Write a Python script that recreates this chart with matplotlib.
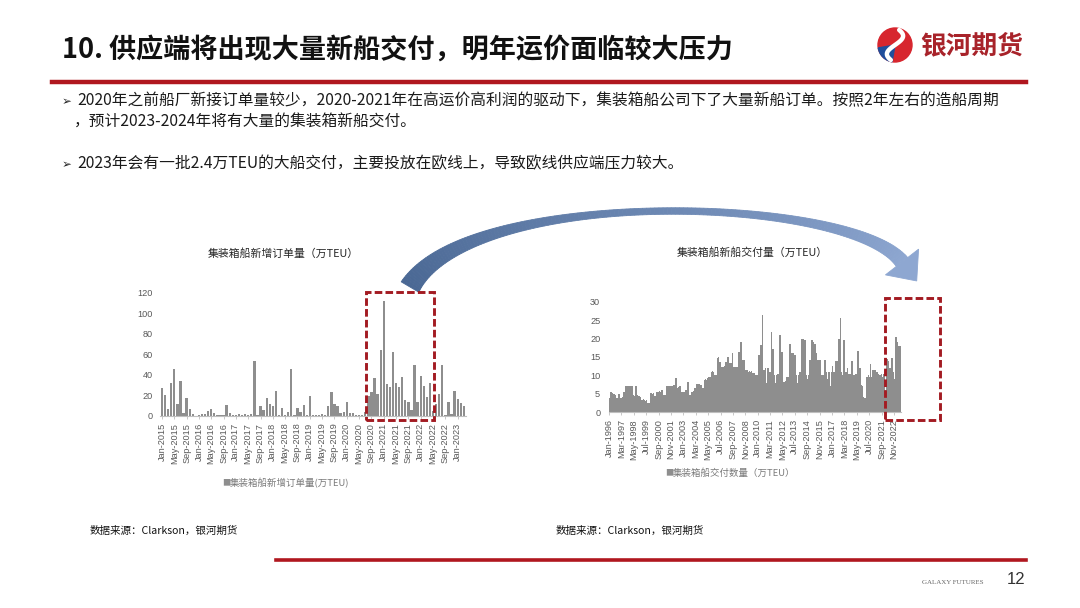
import numpy as np
import matplotlib
matplotlib.use('Agg')
import matplotlib.pyplot as plt
from matplotlib.patches import Rectangle, Polygon, Circle, Wedge
from matplotlib.lines import Line2D
from matplotlib.colors import to_rgb

plt.rcParams['font.family'] = ['Noto Sans CJK SC', 'DejaVu Sans']

# ---------------- data ----------------
# Left chart: monthly new container-ship orders (10k TEU), Jan-2015 .. Mar-2023
orders_2015 = [27, 20, 7, 32, 46, 11, 34, 3, 17, 7, 2, 0]
orders_2016 = [1, 2, 2, 5, 7, 3, 1, 1, 1, 10, 3, 1]
orders_2017 = [1, 2, 1, 2, 1, 2, 53, 1, 9, 6, 17, 11]
orders_2018 = [9, 24, 1, 8, 1, 4, 46, 1, 8, 4, 10, 1]
orders_2019 = [19, 1, 1, 1, 2, 1, 9, 23, 11, 9, 3, 4]
orders_2020 = [13, 3, 3, 1, 1, 1, 4, 19, 23, 37, 21, 64]
orders_2021 = [112, 31, 28, 62, 32, 28, 38, 15, 13, 6, 49, 13]
orders_2022 = [39, 29, 18, 32, 5, 11, 21, 49, 1, 13, 2, 24]
orders_2023 = [16, 12, 9]
new_orders = (orders_2015 + orders_2016 + orders_2017 + orders_2018 + orders_2019
              + orders_2020 + orders_2021 + orders_2022 + orders_2023)
order_tick_labels = ['Jan-2015', 'May-2015', 'Sep-2015', 'Jan-2016', 'May-2016', 'Sep-2016',
                     'Jan-2017', 'May-2017', 'Sep-2017', 'Jan-2018', 'May-2018', 'Sep-2018',
                     'Jan-2019', 'May-2019', 'Sep-2019', 'Jan-2020', 'May-2020', 'Sep-2020',
                     'Jan-2021', 'May-2021', 'Sep-2021', 'Jan-2022', 'May-2022', 'Sep-2022',
                     'Jan-2023']

# Right chart: monthly container-ship deliveries (10k TEU), Jan-1996 .. Jun-2023
deliv_1996 = [4.2, 4.0, 5.6, 5.4, 5.3, 5.0, 5.0, 4.8, 3.8, 3.8, 4.0, 4.9]
deliv_1997 = [4.9, 4.0, 3.8, 4.2, 5.6, 5.6, 6.0, 7.2, 7.2, 7.2, 7.2, 7.2]
deliv_1998 = [7.2, 7.2, 7.2, 7.2, 4.7, 4.5, 7.0, 7.0, 4.7, 4.5, 4.5, 4.2]
deliv_1999 = [4.2, 3.4, 3.3, 3.5, 3.3, 3.2, 3.3, 2.4, 2.5, 2.4, 2.6, 5.1]
deliv_2000 = [5.1, 5.0, 5.1, 4.4, 4.4, 4.5, 5.4, 5.4, 5.6, 5.8, 5.6, 6.0]
deliv_2001 = [6.0, 6.2, 4.7, 4.7, 4.8, 7.2, 7.2, 7.0, 7.2, 7.2, 7.0, 7.2]
deliv_2002 = [7.2, 7.4, 7.4, 9.2, 9.2, 6.5, 6.8, 6.5, 7.0, 7.0, 5.6, 5.6]
deliv_2003 = [5.6, 5.5, 6.0, 6.0, 6.0, 8.1, 8.1, 4.7, 4.7, 5.6, 5.6, 5.8]
deliv_2004 = [6.5, 6.5, 6.5, 7.6, 7.6, 7.6, 7.8, 7.4, 7.4, 6.5, 6.5, 6.5]
deliv_2005 = [8.8, 9.0, 8.8, 9.2, 9.7, 9.7, 9.5, 9.7, 11.0, 11.2, 11.0, 10.0]
deliv_2006 = [10.0, 10.0, 14.2, 14.8, 15.0, 13.7, 13.7, 12.4, 12.4, 12.4, 12.6, 13.7]
deliv_2007 = [13.7, 13.7, 15.0, 15.0, 13.3, 13.3, 13.3, 16.0, 16.0, 12.4, 12.4, 12.4]
deliv_2008 = [12.4, 12.4, 16.4, 16.4, 16.4, 19.0, 19.0, 14.2, 14.2, 14.2, 11.5, 11.5]
deliv_2009 = [11.5, 11.5, 11.0, 11.2, 11.0, 11.2, 10.6, 10.6, 10.6, 10.4, 10.0, 10.0]
deliv_2010 = [10.0, 15.5, 15.5, 18.2, 18.2, 26.4, 26.4, 11.5, 11.5, 12.0, 8.0, 12.0]
deliv_2011 = [12.0, 10.8, 10.8, 21.7, 21.7, 17.3, 17.3, 10.0, 8.0, 10.0, 10.3, 10.3]
deliv_2012 = [10.3, 21.1, 21.1, 16.4, 16.4, 8.3, 8.3, 8.5, 9.7, 9.7, 9.7, 9.7]
deliv_2013 = [18.4, 18.4, 16.0, 16.0, 16.0, 15.5, 15.5, 15.5, 10.0, 8.0, 10.0, 10.8]
deliv_2014 = [10.8, 10.8, 20.0, 20.0, 19.8, 19.6, 19.6, 10.0, 9.0, 10.0, 14.2, 14.2]
deliv_2015 = [14.2, 19.6, 19.6, 19.0, 18.4, 18.4, 16.0, 16.0, 14.2, 14.2, 14.2, 14.2]
deliv_2016 = [10.0, 10.0, 10.0, 14.2, 14.2, 14.2, 11.0, 9.0, 11.0, 11.0, 7.0, 11.0]
deliv_2017 = [12.5, 12.5, 11.0, 11.0, 14.0, 14.0, 14.0, 20.0, 20.0, 10.0, 25.5, 11.0]
deliv_2018 = [10.0, 19.5, 19.5, 11.0, 11.0, 12.0, 12.0, 10.5, 10.5, 10.5, 14.0, 14.0]
deliv_2019 = [10.0, 10.0, 10.5, 10.5, 10.5, 16.5, 16.5, 12.0, 12.0, 7.5, 7.0, 7.0]
deliv_2020 = [4.2, 4.0, 4.0, 9.5, 9.5, 10.0, 9.5, 13.0, 9.5, 9.5, 11.5, 11.5]
deliv_2021 = [11.5, 11.5, 11.0, 11.0, 10.5, 10.5, 10.0, 10.0, 10.5, 9.5, 10.5, 10.5]
deliv_2022 = [6.0, 6.0, 14.5, 14.5, 14.0, 12.0, 12.0, 14.8, 14.8, 11.0, 9.0, 9.0]
deliv_2023 = [20.5, 20.5, 19.0, 18.0, 18.0, 18.0]
deliveries = (deliv_1996 + deliv_1997 + deliv_1998 + deliv_1999 + deliv_2000 + deliv_2001
              + deliv_2002 + deliv_2003 + deliv_2004 + deliv_2005 + deliv_2006 + deliv_2007
              + deliv_2008 + deliv_2009 + deliv_2010 + deliv_2011 + deliv_2012 + deliv_2013
              + deliv_2014 + deliv_2015 + deliv_2016 + deliv_2017 + deliv_2018 + deliv_2019
              + deliv_2020 + deliv_2021 + deliv_2022 + deliv_2023)
deliv_tick_labels = ['Jan-1996', 'Mar-1997', 'May-1998', 'Jul-1999', 'Sep-2000', 'Nov-2001',
                     'Jan-2003', 'Mar-2004', 'May-2005', 'Jul-2006', 'Sep-2007', 'Nov-2008',
                     'Jan-2010', 'Mar-2011', 'May-2012', 'Jul-2013', 'Sep-2014', 'Nov-2015',
                     'Jan-2017', 'Mar-2018', 'May-2019', 'Jul-2020', 'Sep-2021', 'Nov-2022']

# ---------------- figure ----------------
W, H = 1080, 608
fig = plt.figure(figsize=(10.8, 6.08), dpi=100)
fig.patch.set_facecolor('white')


def fx(x):
    return x / W


def fy(y):
    return 1 - y / H


CJK = ['Noto Sans CJK SC', 'DejaVu Sans']
LAT = ['Liberation Sans', 'DejaVu Sans']
DARKRED = '#A31B22'

# title
fig.text(fx(62), fy(50), '10. 供应端将出现大量新船交付，明年运价面临较大压力',
         fontsize=19.5, fontweight='bold', color='#111111', va='center', ha='left', family=CJK)

# logo
axlogo = fig.add_axes([fx(876), fy(64), 38 / W, 38 / H])
axlogo.set_xlim(-19, 19)
axlogo.set_ylim(-19, 19)
axlogo.axis('off')
axlogo.add_patch(Circle((0, 0), 17, color='#D7262E'))
axlogo.add_patch(Wedge((0, 0), 17, 190, 260, color='#1F4E9C'))
tt = np.linspace(-1, 1, 60)
axlogo.plot(9 * np.sin(tt * 2.6) * 0.9, tt * 15, color='white', lw=3.2, solid_capstyle='round')
fig.text(fx(920), fy(46), '银河期货', fontsize=18.5, fontweight='bold', color='#A8232A',
         va='center', ha='left', family=CJK)

# header rule
fig.add_artist(Line2D([fx(52), fx(1026)], [fy(82), fy(82)], color='#B0171F', lw=3.2,
                      transform=fig.transFigure))

# bullets
fig.text(fx(62), fy(102), '➢', fontsize=8.5, color='#222222', va='center', ha='left',
         family=['DejaVu Sans'])
fig.text(fx(77), fy(101), '2020年之前船厂新接订单量较少，2020-2021年在高运价高利润的驱动下，集装箱船公司下了大量新船订单。按照2年左右的造船周期',
         fontsize=11.3, color='#1a1a1a', va='center', ha='left', family=CJK)
fig.text(fx(74), fy(121), '，预计2023-2024年将有大量的集装箱新船交付。',
         fontsize=11.3, color='#1a1a1a', va='center', ha='left', family=CJK)
fig.text(fx(62), fy(165), '➢', fontsize=8.5, color='#222222', va='center', ha='left',
         family=['DejaVu Sans'])
fig.text(fx(77), fy(164), '2023年会有一批2.4万TEU的大船交付，主要投放在欧线上，导致欧线供应端压力较大。',
         fontsize=11.3, color='#1a1a1a', va='center', ha='left', family=CJK)

BAR = '#8E8E8E'
TICKC = '#595959'


def style_axes(ax):
    for s in ['top', 'right', 'left']:
        ax.spines[s].set_visible(False)
    ax.spines['bottom'].set_color('#BFBFBF')
    ax.spines['bottom'].set_linewidth(0.8)
    ax.set_facecolor('none')


# ---------------- left chart ----------------
xl0, xl1 = 159.8, 466.0
yl_top, yl_bot = 292.7, 415.7
axL = fig.add_axes([fx(xl0), fy(yl_bot), (xl1 - xl0) / W, (yl_bot - yl_top) / H])
xL = np.arange(len(new_orders))
axL.bar(xL, new_orders, width=0.75, color=BAR)
axL.set_xlim(-0.7, len(new_orders) - 0.3)
axL.set_ylim(0, 120)
axL.set_yticks(range(0, 121, 20))
axL.set_xticks(xL[::4])
axL.set_xticklabels(order_tick_labels, rotation=90, family=LAT)
axL.tick_params(axis='y', length=0, pad=5, labelsize=6.6, labelcolor=TICKC)
axL.tick_params(axis='x', length=2, width=0.6, color='#BFBFBF', pad=3, labelsize=6.6,
                labelcolor=TICKC)
for lab in axL.get_yticklabels():
    lab.set_family(LAT)
style_axes(axL)
fig.text(fx(283), fy(254), '集装箱船新增订单量（万TEU）', fontsize=7.8, color='#262626',
         ha='center', va='center', family=CJK)
fig.text(fx(226), fy(483), '■', fontsize=6, color='#8E8E8E', ha='center', va='center', family=CJK)
fig.text(fx(230), fy(483), '集装箱船新增订单量(万TEU)', fontsize=6.8, color='#7a7a7a',
         ha='left', va='center', family=CJK)

# ---------------- right chart ----------------
xr0, xr1 = 608.6, 900.6
yr_top, yr_bot = 301.7, 412.3
axR = fig.add_axes([fx(xr0), fy(yr_bot), (xr1 - xr0) / W, (yr_bot - yr_top) / H])
xR = np.arange(len(deliveries))
axR.bar(xR, deliveries, width=1.0, color=BAR, linewidth=0)
axR.set_xlim(-0.5, len(deliveries) - 0.5)
axR.set_ylim(0, 30)
axR.set_yticks(range(0, 31, 5))
axR.set_xticks(xR[::14])
axR.set_xticklabels(deliv_tick_labels, rotation=90, family=LAT)
axR.tick_params(axis='y', length=0, pad=6, labelsize=6.6, labelcolor=TICKC)
axR.tick_params(axis='x', length=2, width=0.6, color='#BFBFBF', pad=3, labelsize=6.6,
                labelcolor=TICKC)
for lab in axR.get_yticklabels():
    lab.set_family(LAT)
style_axes(axR)
fig.text(fx(752), fy(253), '集装箱船新船交付量（万TEU）', fontsize=7.8, color='#262626',
         ha='center', va='center', family=CJK)
fig.text(fx(669), fy(473), '■', fontsize=6, color='#8E8E8E', ha='center', va='center', family=CJK)
fig.text(fx(673), fy(473), '集装箱船交付数量（万TEU）', fontsize=6.8, color='#7a7a7a',
         ha='left', va='center', family=CJK)

# ---------------- dashed highlight boxes ----------------
for (x0, y0, x1, y1) in [(366, 292, 434, 420), (885, 298, 940, 420)]:
    fig.add_artist(Rectangle((fx(x0), fy(y1)), (x1 - x0) / W, (y1 - y0) / H, fill=False,
                             edgecolor=DARKRED, lw=2.1, linestyle=(0, (2.6, 1.1)),
                             transform=fig.transFigure, zorder=10))

# ---------------- curved arrow ----------------
P = np.array([[410, 287], [470, 185], [850, 195], [902, 262]], dtype=float)


def bez(t):
    t = np.asarray(t)[:, None]
    return ((1 - t) ** 3 * P[0] + 3 * t * (1 - t) ** 2 * P[1]
            + 3 * t ** 2 * (1 - t) * P[2] + t ** 3 * P[3])


def dbez(t):
    t = np.asarray(t)[:, None]
    return (3 * (1 - t) ** 2 * (P[1] - P[0]) + 6 * t * (1 - t) * (P[2] - P[1])
            + 3 * t ** 2 * (P[3] - P[2]))


N = 160
ts = np.linspace(0, 1, N + 1)
C = bez(ts)
D = dbez(ts)
D = D / np.linalg.norm(D, axis=1)[:, None]
Nrm = np.stack([-D[:, 1], D[:, 0]], axis=1)
wid = np.where(ts < 0.5, 6.5 + 14 * (1 - 2 * ts) ** 2, 6.5 + 8 * (2 * ts - 1) ** 2)
Lft = C + Nrm * wid[:, None] / 2
Rgt = C - Nrm * wid[:, None] / 2
c0 = np.array(to_rgb('#4A6894'))
c1 = np.array(to_rgb('#8EA7D1'))
for i in range(N):
    col = c0 + (c1 - c0) * ts[i]
    quad = np.array([Lft[i], Lft[i + 1], Rgt[i + 1], Rgt[i]])
    fig.add_artist(Polygon(np.column_stack([quad[:, 0] / W, 1 - quad[:, 1] / H]),
                           closed=True, facecolor=col, edgecolor=col, lw=0.6,
                           transform=fig.transFigure, zorder=5))
d_end = D[-1]
n_end = Nrm[-1]
base = P[3]
tip = base + d_end * 24
head = np.array([base + n_end * 21, tip, base - n_end * 21])
fig.add_artist(Polygon(np.column_stack([head[:, 0] / W, 1 - head[:, 1] / H]), closed=True,
                       facecolor=c1, edgecolor=c1, lw=0.6, transform=fig.transFigure, zorder=5))

# ---------------- footer ----------------
fig.text(fx(90), fy(531), '数据来源：Clarkson，银河期货', fontsize=7.6, color='#111111',
         ha='left', va='center', family=CJK)
fig.text(fx(556), fy(531), '数据来源：Clarkson，银河期货', fontsize=7.6, color='#111111',
         ha='left', va='center', family=CJK)
fig.add_artist(Line2D([fx(276), fx(1026)], [fy(560), fy(560)], color='#B0171F', lw=2.6,
                      transform=fig.transFigure))
fig.text(fx(922), fy(582), 'GALAXY FUTURES', fontsize=5, color='#666666', ha='left',
         va='center', family=['Liberation Serif', 'DejaVu Serif'])
fig.text(fx(1025), fy(580), '12', fontsize=12, color='#333333', ha='right', va='center',
         family=LAT)

fig.savefig('out.png', dpi=100, facecolor='white')
